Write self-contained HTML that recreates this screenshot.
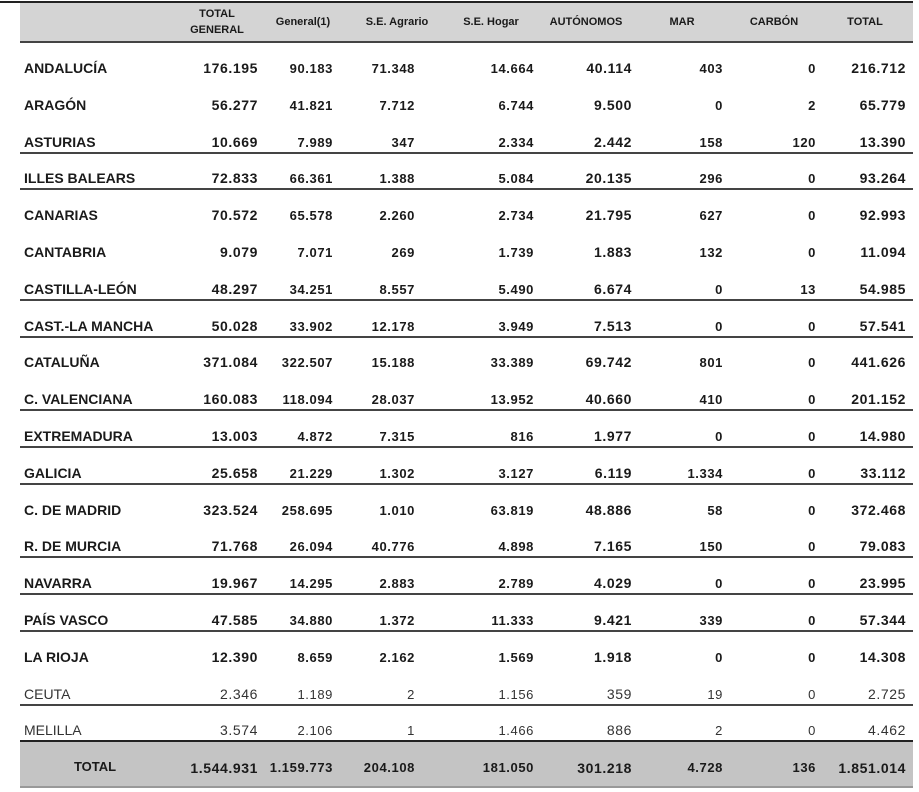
<!DOCTYPE html>
<html><head><meta charset="utf-8"><style>
body{margin:0;width:919px;height:792px;background:#fff;position:relative;overflow:hidden;font-family:"Liberation Sans",Arial,sans-serif;color:#1a1a1a}
.band{position:absolute;left:20px;width:893px;background:#d4d4d4}
.ln{position:absolute;left:20px;width:893px;height:2px;background:#444}
.t{position:absolute;white-space:nowrap;line-height:16px;transform:translateY(-8px)}
.r{text-align:right;letter-spacing:0.6px}
.h{font-size:11px;font-weight:bold;text-align:center;transform:translate(-50%,-8px)}
</style></head><body>
<div class="band" style="top:3px;height:38px"></div>
<div style="position:absolute;left:0;top:1px;width:913px;height:2px;background:#222"></div>
<div class="ln" style="top:41px"></div>
<div class="band" style="top:741px;height:45px;background:#c4c4c4"></div>
<div class="ln" style="top:786px;background:#999"></div>
<div id="c"></div>
<script>
var hdr=[["TOTAL<br>GENERAL",217],["General(1)",303],["S.E. Agrario",397],["S.E. Hogar",491],["AUTÓNOMOS",586],["MAR",682],["CARBÓN",774],["TOTAL",865]];
var rows=[
["ANDALUCÍA","176.195","90.183","71.348","14.664","40.114","403","0","216.712"],
["ARAGÓN","56.277","41.821","7.712","6.744","9.500","0","2","65.779"],
["ASTURIAS","10.669","7.989","347","2.334","2.442","158","120","13.390"],
["ILLES BALEARS","72.833","66.361","1.388","5.084","20.135","296","0","93.264"],
["CANARIAS","70.572","65.578","2.260","2.734","21.795","627","0","92.993"],
["CANTABRIA","9.079","7.071","269","1.739","1.883","132","0","11.094"],
["CASTILLA-LEÓN","48.297","34.251","8.557","5.490","6.674","0","13","54.985"],
["CAST.-LA MANCHA","50.028","33.902","12.178","3.949","7.513","0","0","57.541"],
["CATALUÑA","371.084","322.507","15.188","33.389","69.742","801","0","441.626"],
["C. VALENCIANA","160.083","118.094","28.037","13.952","40.660","410","0","201.152"],
["EXTREMADURA","13.003","4.872","7.315","816","1.977","0","0","14.980"],
["GALICIA","25.658","21.229","1.302","3.127","6.119","1.334","0","33.112"],
["C. DE MADRID","323.524","258.695","1.010","63.819","48.886","58","0","372.468"],
["R. DE MURCIA","71.768","26.094","40.776","4.898","7.165","150","0","79.083"],
["NAVARRA","19.967","14.295","2.883","2.789","4.029","0","0","23.995"],
["PAÍS VASCO","47.585","34.880","1.372","11.333","9.421","339","0","57.344"],
["LA RIOJA","12.390","8.659","2.162","1.569","1.918","0","0","14.308"],
["CEUTA","2.346","1.189","2","1.156","359","19","0","2.725"],
["MELILLA","3.574","2.106","1","1.466","886","2","0","4.462"]];
var rights=[257,332,414,533,631,722,815,905];
var sizes=[14,13,13,13,14,13,13,14];
var lines=[2,3,6,7,9,10,11,13,14,15,17];
var h="";
hdr.forEach(function(x,i){h+='<div class="t h" style="left:'+x[1]+'px;top:'+(i==0?14:22)+'px">'+x[0]+'</div>';});
rows.forEach(function(r,i){
 var y=68+i*36.8, w=i>=17?'normal':'bold', col=i>=17?'#333':'#1a1a1a';
 h+='<div class="t" style="left:24px;top:'+y+'px;font-size:14px;font-weight:'+w+';color:'+col+'">'+r[0]+'</div>';
 for(var j=1;j<9;j++){
  h+='<div class="t r" style="right:'+(918-rights[j-1])+'px;top:'+(y+(sizes[j-1]==13?1:0))+'px;font-size:'+sizes[j-1]+'px;font-weight:'+w+';color:'+col+'">'+r[j]+'</div>';
 }
 if(lines.indexOf(i)>=0) h+='<div class="ln" style="top:'+(y+10)+'px"></div>';
});
h+='<div class="ln" style="top:740px;background:#222"></div>';
var tot=["TOTAL","1.544.931","1.159.773","204.108","181.050","301.218","4.728","136","1.851.014"];
h+='<div class="t" style="left:95px;top:767px;font-size:13px;font-weight:bold;transform:translate(-50%,-8px)">TOTAL</div>';
for(var j=1;j<9;j++){h+='<div class="t r" style="right:'+(918-rights[j-1])+'px;top:768px;font-size:'+sizes[j-1]+'px;font-weight:bold">'+tot[j]+'</div>';}
document.getElementById("c").innerHTML=h;
</script>
</body></html>
